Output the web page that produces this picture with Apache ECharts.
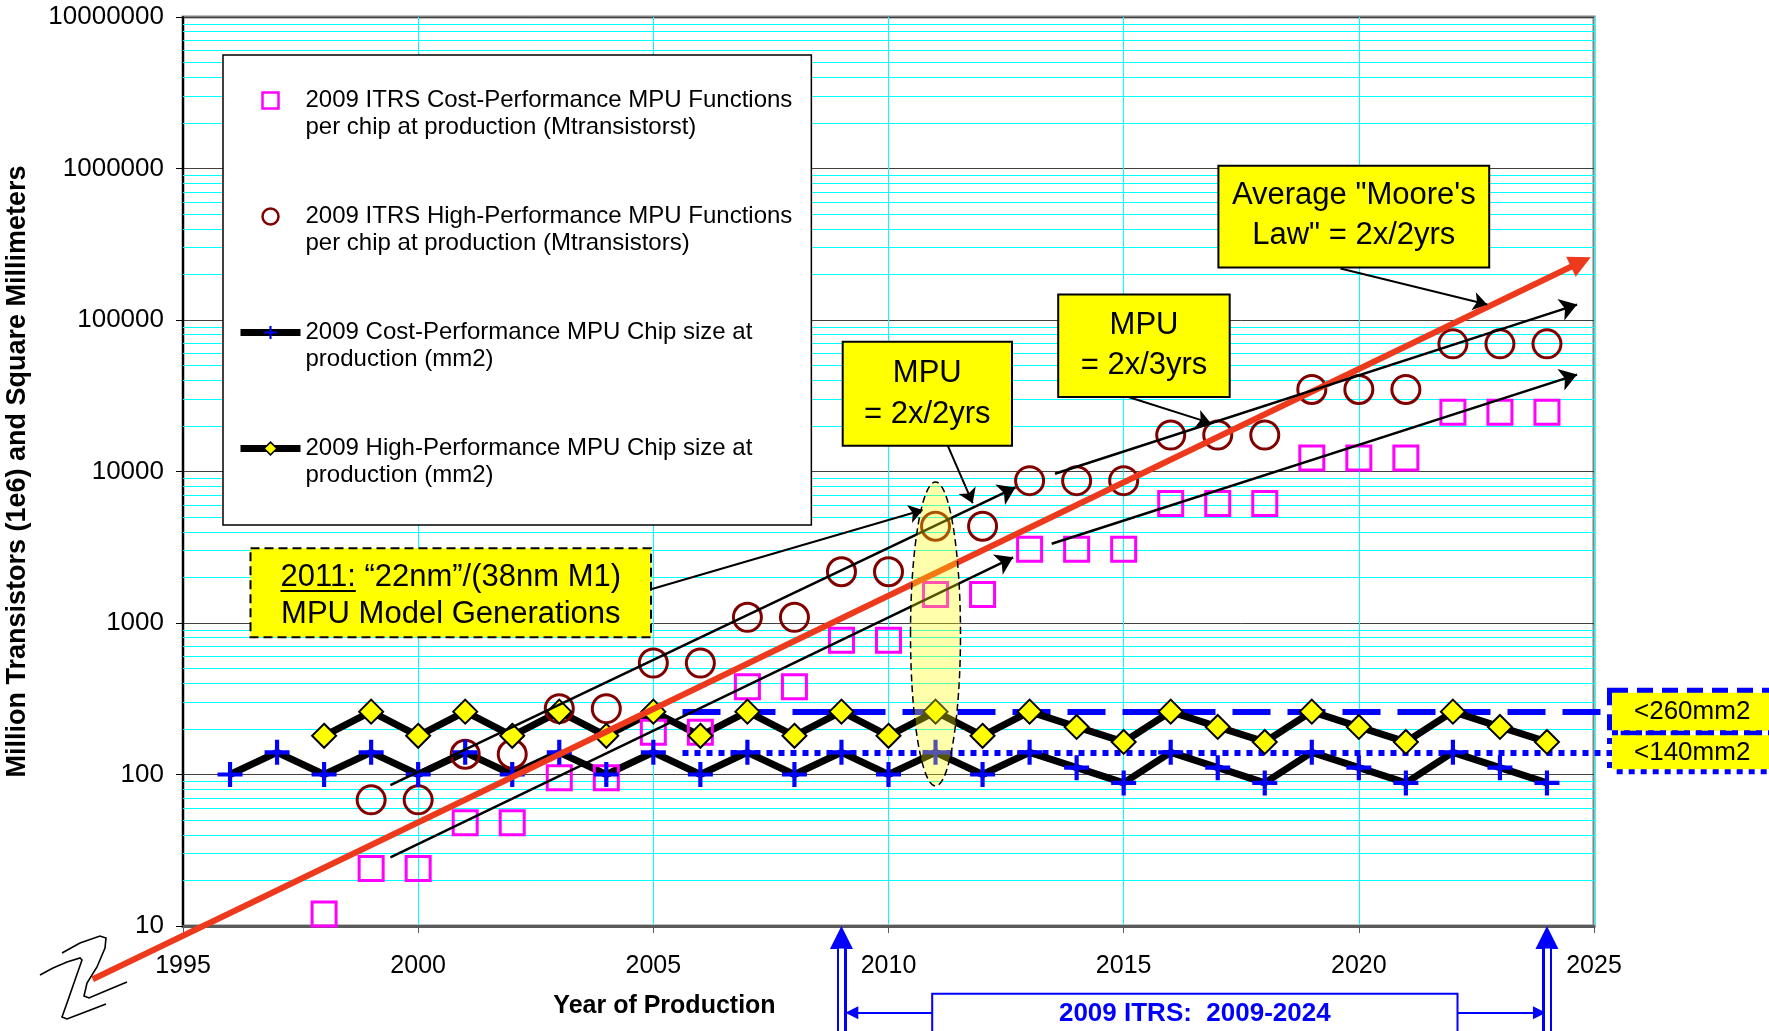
<!DOCTYPE html>
<html>
<head>
<meta charset="utf-8">
<title>MPU Functions per Chip and Chip Size</title>
<script src="https://cdn.jsdelivr.net/npm/echarts@6/dist/echarts.min.js"></script>
<style>
  html, body { margin: 0; padding: 0; background: #ffffff; }
  #chart { width: 1769px; height: 1031px; }
</style>
</head>
<body>
<div id="chart"></div>
<script>
// ---- data -------------------------------------------------------------
const xTickLabels = ['1995', '2000', '2005', '2010', '2015', '2020', '2025'];
const yTickLabels = ['10', '100', '1000', '10000', '100000', '1000000', '10000000'];

// Cost-performance MPU functions per chip at production (Mtransistors)
const cpFuncYears = [1998, 1999, 2000, 2001, 2002, 2003, 2004, 2005, 2006, 2007, 2008, 2009, 2010, 2011, 2012, 2013, 2014, 2015, 2016, 2017, 2018, 2019, 2020, 2021, 2022, 2023, 2024];
const cpFunctions = [12, 24, 24, 48, 48, 95, 95, 190, 190, 380, 380, 770, 770, 1540, 1540, 3070, 3070, 3070, 6140, 6140, 6140, 12300, 12300, 12300, 24600, 24600, 24600];

// High-performance MPU functions per chip at production (Mtransistors)
const hpFuncYears = [1999, 2000, 2001, 2002, 2003, 2004, 2005, 2006, 2007, 2008, 2009, 2010, 2011, 2012, 2013, 2014, 2015, 2016, 2017, 2018, 2019, 2020, 2021, 2022, 2023, 2024];
const hpFunctions = [68, 68, 136, 136, 272, 272, 544, 544, 1090, 1090, 2180, 2180, 4350, 4350, 8700, 8700, 8700, 17400, 17400, 17400, 34800, 34800, 34800, 69600, 69600, 69600];

// Cost-performance MPU chip size at production (mm2)
const cpChipYears = [1996, 1997, 1998, 1999, 2000, 2001, 2002, 2003, 2004, 2005, 2006, 2007, 2008, 2009, 2010, 2011, 2012, 2013, 2014, 2015, 2016, 2017, 2018, 2019, 2020, 2021, 2022, 2023, 2024];
const cpChipSize = [100, 140, 100, 140, 100, 140, 100, 140, 100, 140, 100, 140, 100, 140, 100, 140, 100, 140, 111, 88, 140, 111, 88, 140, 111, 88, 140, 111, 88];

// High-performance MPU chip size at production (mm2)
const hpChipYears = [1998, 1999, 2000, 2001, 2002, 2003, 2004, 2005, 2006, 2007, 2008, 2009, 2010, 2011, 2012, 2013, 2014, 2015, 2016, 2017, 2018, 2019, 2020, 2021, 2022, 2023, 2024];
const hpChipSize = [180, 260, 180, 260, 180, 260, 180, 260, 180, 260, 180, 260, 180, 260, 180, 260, 206, 164, 260, 206, 164, 260, 206, 164, 260, 206, 164];

// Average "Moore's Law" trend (2x every 2 years)
const mooreLine = [[1993.08, 4.45], [2024.72, 241500]];

// MPU trend arrows: 2x/2yrs (HP, CP) then 2x/3yrs (HP, CP)
const trendArrows = [
  [[1999.41, 85], [2012.70, 7850]],
  [[1999.41, 28.4], [2012.65, 2715]],
  [[2013.54, 9660], [2024.64, 126400]],
  [[2013.47, 3335], [2024.64, 43600]]
];

// Pointers from the note boxes
const calloutArrows = [
  [[2004.97, 1675], [2010.73, 5570]],
  [[2011.26, 14800], [2011.79, 6180]],
  [[2015.10, 31000], [2016.85, 20860]],
  [[2019.61, 218800], [2022.73, 126400]]
];

// Chip size limits (mm2)
const limitHP = 260;
const limitCP = 140;
const limitSpan = [2005.62, 2025.4];

// Roadmap range 2009-2024
const roadmapYears = [2009, 2024];

// ---- names ------------------------------------------------------------
const NAME_CP_FUNC = '2009 ITRS Cost-Performance MPU Functions\nper chip at production (Mtransistorst)';
const NAME_HP_FUNC = '2009 ITRS High-Performance MPU Functions\nper chip at production (Mtransistors)';
const NAME_CP_CHIP = '2009 Cost-Performance MPU Chip size at\nproduction (mm2)';
const NAME_HP_CHIP = '2009 High-Performance MPU Chip size at\nproduction (mm2)';

const FONT = '"Liberation Sans", Arial, Helvetica, sans-serif';
const PLUS = 'path://M0,10H24V14H0Z M10,0H14V24H10Z';
const SQUARE = 'path://M0,0H10V10H0Z';

// minor log grid values (2..9 within each decade)
const minorGrid = [];
for (let d = 10; d < 1e7; d *= 10) {
  for (let k = 2; k <= 9; k++) minorGrid.push({ yAxis: d * k });
}

const pairs = (xs, ys) => xs.map((x, i) => [x, ys[i]]);
const segs = list => list.map(c => ({ coords: c }));

// ---- chart ------------------------------------------------------------
const chart = echarts.init(document.getElementById('chart'), null, { renderer: 'canvas' });

function limitLabel(value, borderType, padding) {
  return {
    show: true, formatter: '<' + value + 'mm2', distance: 0, offset: [17, 0],
    fontFamily: FONT, fontSize: 26, color: '#000',
    backgroundColor: '#FFFF00', borderColor: '#0000FF', borderWidth: 5, borderType,
    padding
  };
}

const option = {
  backgroundColor: '#ffffff',
  animation: false,
  textStyle: { fontFamily: FONT },
  grid: {
    left: 183, top: 17, width: 1411, height: 909,
    containLabel: false, outerBoundsMode: 'none',
    show: true, borderColor: '#808080', borderWidth: 3, backgroundColor: 'transparent'
  },
  legend: {
    orient: 'vertical',
    left: 223, top: 55, z: 20,
    padding: [5, 19, 36, 14],
    itemWidth: 60, itemHeight: 16, itemGap: 35,
    backgroundColor: '#ffffff', borderColor: '#000000', borderWidth: 1.5,
    selectedMode: false,
    formatter: name => '\n' + name,
    textStyle: { fontFamily: FONT, fontSize: 24, lineHeight: 27, color: '#000' },
    data: [
      { name: NAME_CP_FUNC, icon: SQUARE, itemStyle: { color: 'transparent', borderColor: '#FF00FF', borderWidth: 2.5 } },
      { name: NAME_HP_FUNC, itemStyle: { color: 'transparent', borderColor: '#800000', borderWidth: 2.5 } },
      { name: NAME_CP_CHIP, lineStyle: { color: '#000', width: 7 }, itemStyle: { color: '#0000FF' } },
      { name: NAME_HP_CHIP, lineStyle: { color: '#000', width: 7 }, itemStyle: { color: '#FFFF00', borderColor: '#000', borderWidth: 1.5 } }
    ]
  },
  xAxis: {
    type: 'value', min: 1995, max: 2025, interval: 5,
    axisLine: { show: true, lineStyle: { color: '#5a5a5a', width: 3 } },
    axisTick: { show: true, length: 7, lineStyle: { color: '#5a5a5a', width: 1 } },
    axisLabel: {
      fontFamily: FONT, fontSize: 25, color: '#000', margin: 28,
      formatter: v => xTickLabels[Math.round((v - 1995) / 5)]
    },
    splitLine: { show: true, lineStyle: { color: '#00FFFF', width: 1 } },
    name: 'Year of Production', nameLocation: 'middle', nameGap: 68,
    nameTextStyle: { fontFamily: FONT, fontSize: 25, fontWeight: 'bold', color: '#000', padding: [0, 448, 0, 0] }
  },
  yAxis: {
    type: 'log', logBase: 10, min: 10, max: 10000000,
    axisLine: { show: true, lineStyle: { color: '#000', width: 2 } },
    axisTick: { show: true, length: 7, lineStyle: { color: '#000', width: 1 } },
    axisLabel: {
      fontFamily: FONT, fontSize: 26, color: '#000', margin: 19,
      formatter: v => yTickLabels[Math.round(Math.log10(v)) - 1]
    },
    splitLine: { show: true, lineStyle: { color: '#404040', width: 1 } },
    name: 'Million Transistors (1e6) and Square Millimeters',
    nameLocation: 'middle', nameGap: 152,
    nameTextStyle: { fontFamily: FONT, fontSize: 27, fontWeight: 'bold', color: '#000' }
  },
  series: [
    {
      // minor log gridlines
      type: 'line', data: [], z: 1, silent: true,
      markLine: {
        silent: true, z: 1, symbol: 'none', label: { show: false },
        lineStyle: { color: '#00FFFF', width: 1, type: 'solid' },
        emphasis: { disabled: true },
        data: minorGrid
      }
    },
    {
      // chip size limits, drawn past the plot edge
      type: 'lines', coordinateSystem: 'cartesian2d', z: 1.5, clip: false, silent: true,
      symbol: 'none',
      lineStyle: { color: '#0000FF', width: 6, opacity: 1, curveness: 0, type: [38, 17] },
      data: [{ coords: limitSpan.map(x => [x, limitHP]) }]
    },
    {
      type: 'lines', coordinateSystem: 'cartesian2d', z: 1.5, clip: false, silent: true,
      symbol: 'none',
      lineStyle: { color: '#0000FF', width: 6, opacity: 1, curveness: 0, type: [6, 6] },
      data: [{ coords: limitSpan.map(x => [x, limitCP]) }]
    },
    {
      // limit tags
      name: 'limit HP', type: 'line', z: 1.6, silent: true,
      data: limitSpan.map(x => [x, limitHP]),
      symbol: 'none',
      lineStyle: { opacity: 0 },
      endLabel: limitLabel(limitHP, [16, 9], [7, 30, 5, 22])
    },
    {
      name: 'limit CP', type: 'line', z: 1.6, silent: true,
      data: limitSpan.map(x => [x, limitCP]),
      symbol: 'none',
      lineStyle: { opacity: 0 },
      endLabel: limitLabel(limitCP, [6, 6], [4, 30, 4, 22])
    },
    {
      name: NAME_CP_FUNC, type: 'scatter', z: 2,
      data: pairs(cpFuncYears, cpFunctions),
      symbol: 'rect', symbolSize: 24,
      itemStyle: { color: 'transparent', borderColor: '#FF00FF', borderWidth: 3, opacity: 1 }
    },
    {
      name: NAME_HP_FUNC, type: 'scatter', z: 2,
      data: pairs(hpFuncYears, hpFunctions),
      symbol: 'circle', symbolSize: 28,
      itemStyle: { color: 'transparent', borderColor: '#800000', borderWidth: 3, opacity: 1 }
    },
    {
      name: NAME_CP_CHIP, type: 'line', z: 2,
      data: pairs(cpChipYears, cpChipSize),
      symbol: PLUS, symbolSize: 25, showAllSymbol: true,
      lineStyle: { color: '#000', width: 7 },
      itemStyle: { color: '#0000FF', borderWidth: 0 }
    },
    {
      name: NAME_HP_CHIP, type: 'line', z: 2,
      data: pairs(hpChipYears, hpChipSize),
      symbol: 'diamond', symbolSize: 24, showAllSymbol: true,
      lineStyle: { color: '#000', width: 7 },
      itemStyle: { color: '#FFFF00', borderColor: '#000', borderWidth: 2 }
    },
    {
      // Moore's law trend
      type: 'lines', coordinateSystem: 'cartesian2d', z: 5, clip: false, silent: true,
      symbol: ['none', 'triangle'], symbolSize: [0, 22],
      lineStyle: { color: '#EE3A1C', width: 6, opacity: 1, curveness: 0 },
      data: segs([mooreLine])
    },
    {
      type: 'lines', coordinateSystem: 'cartesian2d', z: 6, clip: false, silent: true,
      symbol: ['none', 'arrow'], symbolSize: [0, 17],
      lineStyle: { color: '#000', width: 2.5, opacity: 1, curveness: 0 },
      data: segs(trendArrows)
    },
    {
      type: 'lines', coordinateSystem: 'cartesian2d', z: 6, clip: false, silent: true,
      symbol: ['none', 'arrow'], symbolSize: [0, 14],
      lineStyle: { color: '#000', width: 2, opacity: 1, curveness: 0 },
      data: segs(calloutArrows)
    },
    {
      // roadmap range markers below the axis
      type: 'lines', coordinateSystem: 'cartesian2d', z: 6, clip: false, silent: true,
      symbol: ['none', 'triangle'], symbolSize: [0, 23],
      lineStyle: { color: '#0000FF', width: 10, opacity: 1, curveness: 0 },
      data: roadmapYears.map(y => ({ coords: [[y, 1.8], [y, 8.4]] }))
    },
    {
      type: 'lines', coordinateSystem: 'cartesian2d', z: 7, clip: false, silent: true,
      symbol: 'none',
      lineStyle: { color: '#ffffff', width: 5, opacity: 1, curveness: 0 },
      data: roadmapYears.map(y => ({ coords: [[y, 1.8], [y, 7.1]] }))
    },
    {
      type: 'lines', coordinateSystem: 'cartesian2d', z: 6, clip: false, silent: true,
      symbol: ['none', 'triangle'], symbolSize: [0, 13],
      lineStyle: { color: '#0000FF', width: 2, opacity: 1, curveness: 0 },
      data: [
        { coords: [[2010.93, 2.68], [roadmapYears[0] + 0.22, 2.68]] },
        { coords: [[2022.10, 2.68], [roadmapYears[1] - 0.16, 2.68]] }
      ]
    }
  ]
};

chart.setOption(option);

// ---- annotations ------------------------------------------------------
function measure(text, font) {
  const ctx = document.createElement('canvas').getContext('2d');
  ctx.font = font;
  return ctx.measureText(text).width;
}
function rect(x, y, w, h, style, z) {
  return { type: 'rect', silent: true, z: z || 60, shape: { x, y, width: w, height: h }, style };
}
function text(x, y, str, font, lh, fill, z) {
  return {
    type: 'text', silent: true, z: z || 61, x, y,
    style: { text: str, font, lineHeight: lh, fill: fill || '#000', align: 'center', verticalAlign: 'middle', textAlign: 'center', textVerticalAlign: 'middle' }
  };
}

const boxFont = '31px ' + FONT;
const noteLine1 = '2011: \u201C22nm\u201D/(38nm M1)';
const noteLine2 = 'MPU Model Generations';
const noteCx = 450.8;
const noteStart = noteCx - measure(noteLine1, boxFont) / 2;
const noteUnder = measure('2011:', boxFont);

const yellowBox = { fill: '#FFFF00', stroke: '#000', lineWidth: 2 };

chart.setOption({
  graphic: [
    // generation note
    rect(250.5, 548.3, 400.5, 89, { fill: '#FFFF00', stroke: '#000', lineWidth: 2, lineDash: [9, 5] }),
    text(noteCx, 595.5, noteLine1 + '\n' + noteLine2, boxFont, 37),
    { type: 'line', silent: true, z: 62, shape: { x1: noteStart, y1: 591, x2: noteStart + noteUnder, y2: 591 }, style: { stroke: '#000', lineWidth: 2 } },

    // MPU = 2x/2yrs
    rect(842.7, 341.8, 169.3, 104, yellowBox),
    text(927.3, 394, 'MPU\n= 2x/2yrs', boxFont, 41),

    // MPU = 2x/3yrs
    rect(1058.2, 294.5, 171.5, 102.6, yellowBox),
    text(1144, 345.8, 'MPU\n= 2x/3yrs', boxFont, 40),

    // Moore's law note
    rect(1218.4, 165.8, 270.8, 101.6, yellowBox),
    text(1353.8, 215, 'Average "Moore\'s\nLaw" = 2x/2yrs', boxFont, 40),

    // 2011 generation highlight
    {
      type: 'ellipse', silent: true, z: 58,
      shape: { cx: 935.5, cy: 634, rx: 25, ry: 152 },
      style: { fill: 'rgba(255,255,0,0.33)', stroke: '#000', lineWidth: 1.5, lineDash: [7, 4] }
    },

    // roadmap range label
    rect(932.2, 993.7, 525.3, 60, { fill: '#ffffff', stroke: '#0000FF', lineWidth: 2 }),
    text(1194.8, 1014, '2009 ITRS:  2009-2024', 'bold 26px ' + FONT, 30, '#0000FF'),

    // axis break mark
    {
      type: 'polyline', silent: true, z: 60,
      shape: { points: [[40, 975], [53, 968], [67, 962], [80, 958], [82, 960], [75, 980], [67, 1003], [62, 1017], [67, 1019], [80, 1014], [93, 1009], [106, 1004]] },
      style: { stroke: '#000', lineWidth: 1.6, fill: null }
    },
    {
      type: 'polyline', silent: true, z: 60,
      shape: { points: [[62, 953], [80, 943], [100, 936], [106, 938], [105, 948], [97, 967], [87, 983], [84, 996], [89, 998], [103, 992], [127, 982]] },
      style: { stroke: '#000', lineWidth: 1.6, fill: null }
    }
  ]
});
</script>
</body>
</html>
